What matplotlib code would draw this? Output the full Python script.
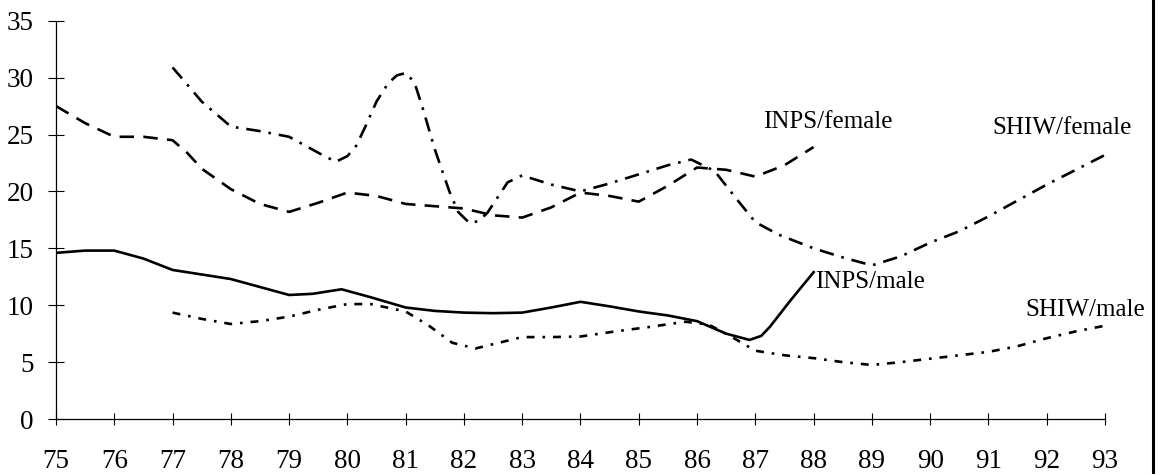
import matplotlib
matplotlib.use("Agg")
import matplotlib.pyplot as plt
from matplotlib.lines import Line2D

plt.rcParams['font.family'] = ['Liberation Serif', 'DejaVu Serif']

# values
inps_f_years = [75, 75.5, 76, 76.5, 77, 77.25, 77.5, 78, 78.5, 79, 79.5, 80, 80.5, 81, 81.5,
                82, 82.5, 83, 83.5, 84, 84.5, 85, 85.5, 86, 86.5, 87, 87.5, 88]
inps_f = [27.5, 26.0, 24.8, 24.8, 24.5, 23.4, 22.0, 20.2, 18.9, 18.2, 19.0, 19.9, 19.6, 18.9, 18.7,
          18.5, 17.9, 17.7, 18.6, 19.9, 19.6, 19.1, 20.5, 22.1, 21.9, 21.3, 22.3, 23.9]

shiw_f_years = [77, 77.5, 78, 78.5, 79, 79.5, 79.8, 80, 80.15, 80.3, 80.5, 80.7, 80.85, 81,
                81.15, 81.3, 81.5, 81.75, 81.9, 82.1, 82.25, 82.4, 82.75, 83, 83.5, 84, 84.5,
                85, 85.5, 85.9, 86.3, 86.7, 87, 87.4, 88, 88.5, 89, 89.5, 90, 90.5, 91, 91.5,
                92, 92.5, 93]
shiw_f = [30.9, 27.9, 25.7, 25.3, 24.8, 23.4, 22.6, 23.1, 24.0, 25.6, 27.9, 29.5, 30.2, 30.4,
          29.6, 27.2, 23.7, 20.0, 18.2, 17.2, 17.4, 18.1, 20.8, 21.4, 20.6, 20.0, 20.7,
          21.5, 22.3, 22.8, 21.8, 19.2, 17.3, 16.2, 15.0, 14.2, 13.5, 14.3, 15.5, 16.5, 17.8, 19.2,
          20.6, 21.9, 23.2]

inps_m_years = [75, 75.5, 76, 76.5, 77, 77.5, 78, 78.5, 79, 79.4, 79.9, 80.4, 81, 81.5,
                82, 82.5, 83, 83.5, 84, 84.5, 85, 85.5, 86, 86.5, 86.9, 87.1, 87.25, 87.6, 88]
inps_m = [14.6, 14.8, 14.8, 14.1, 13.1, 12.7, 12.3, 11.6, 10.9, 11.0, 11.4, 10.7, 9.8, 9.5,
          9.35, 9.3, 9.35, 9.8, 10.3, 9.9, 9.45, 9.1, 8.6, 7.5, 6.95, 7.3, 8.1, 10.4, 12.9]

shiw_m_years = [77, 77.5, 78, 78.5, 79, 79.5, 80, 80.4, 81, 81.4, 81.8, 82.2, 82.6, 83,
                83.5, 84, 84.6, 85.2, 85.8, 86.2, 86.6, 87, 87.5, 88, 88.5, 89, 89.5, 90,
                90.5, 91, 91.5, 92, 92.5, 93]
shiw_m = [9.35, 8.8, 8.35, 8.6, 9.0, 9.6, 10.1, 10.1, 9.45, 8.2, 6.7, 6.2, 6.7, 7.2,
          7.2, 7.25, 7.7, 8.1, 8.55, 8.3, 7.2, 6.0, 5.6, 5.35, 5.0, 4.75, 5.0, 5.3,
          5.6, 5.9, 6.4, 7.1, 7.7, 8.2]

x_ticks = list(range(75, 94))
y_ticks = [0, 5, 10, 15, 20, 25, 30, 35]

labels = ['INPS/female', 'SHIW/female', 'INPS/male', 'SHIW/male']
label_pos = [(87.13, 26.1), (91.06, 25.6), (88.02, 12.0), (91.63, 9.6)]

fig = plt.figure(figsize=(11.59, 4.74), dpi=100)
ax = fig.add_axes([0.0483, 0.116, 0.9051, 0.8403])

lw = 1.9
ax.plot(inps_f_years, inps_f, color='black', lw=lw, linestyle=(0, (5.5, 3.5)))
ax.plot(shiw_f_years, shiw_f, color='black', lw=lw, linestyle=(0, (5.5, 3, 1, 3)))
ax.plot(inps_m_years, inps_m, color='black', lw=lw, linestyle='-')
ax.plot(shiw_m_years, shiw_m, color='black', lw=lw, linestyle=(0, (3, 3, 1, 3)))

for txt, (x, y) in zip(labels, label_pos):
    ax.text(x, y, txt, fontsize=18, ha='left', va='center')

ax.set_xlim(75, 93)
ax.set_ylim(0, 35)
ax.set_xticks(x_ticks)
ax.set_xticklabels([str(t) for t in x_ticks])
ax.set_yticks(y_ticks)
ax.spines['top'].set_visible(False)
ax.spines['right'].set_visible(False)
ax.spines['left'].set_linewidth(0.9)
ax.spines['bottom'].set_linewidth(0.9)
ax.tick_params(axis='y', direction='inout', length=11.5, width=0.8, labelsize=19.5, pad=10.5)
ax.tick_params(axis='x', direction='inout', length=8.6, width=0.8, labelsize=19.5, pad=17)

# frame line at right edge of the picture
fig.add_artist(Line2D([0.9948, 0.9948], [0, 1], transform=fig.transFigure,
                      color='black', lw=2.2))

fig.savefig('out.png', dpi=100)
